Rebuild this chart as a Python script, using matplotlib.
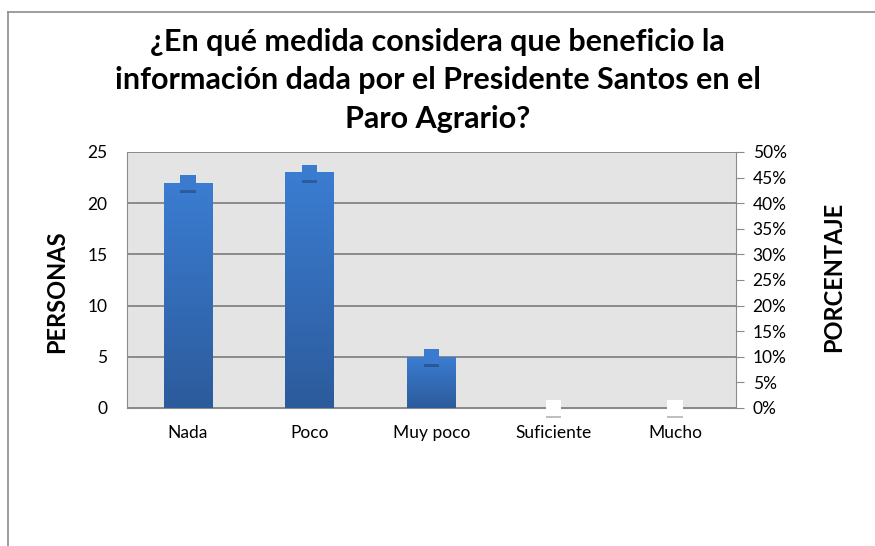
import matplotlib
matplotlib.use("Agg")
import matplotlib.pyplot as plt
import matplotlib.patheffects as pe
import numpy as np
from matplotlib.ticker import MultipleLocator, PercentFormatter

# datos
categorias = ["Nada", "Poco", "Muy poco", "Suficiente", "Mucho"]
personas = [22, 23, 5, 0, 0]
porcentaje = [44, 46, 10, 0, 0]

titulo = ("¿En qué medida considera que beneficio la\n"
          "información dada por el Presidente Santos en el\n"
          "Paro Agrario?")

plt.rcParams['font.family'] = ['Lato', 'DejaVu Sans']

fig = plt.figure(figsize=(8.75, 5.46), dpi=100)
ax = fig.add_axes([127 / 875, 1 - 408 / 546, 609 / 875, 256 / 546])
ax.set_facecolor('#e4e4e4')

x = np.arange(len(categorias))
barras = ax.bar(x, personas, width=0.4, color='#3574c4', zorder=3)

# degradado vertical dentro de cada barra
grad = np.linspace(0, 1, 256).reshape(-1, 1)
cmap = matplotlib.colors.LinearSegmentedColormap.from_list('b', ['#2c5b9c', '#3b7dd2'])
for b in barras:
    if b.get_height() <= 0:
        continue
    im = ax.imshow(grad, cmap=cmap, aspect='auto', origin='lower', zorder=3,
                   extent=[b.get_x(), b.get_x() + b.get_width(), 0, b.get_height()])
    im.set_clip_path(b)

ax.set_xlim(-0.5, len(categorias) - 0.5)
ax.set_ylim(0, 25)
ax.yaxis.set_major_locator(MultipleLocator(5))
ax.grid(axis='y', color='#8a8a8a', linewidth=1.4, zorder=1)
ax.set_axisbelow(True)
for s in ['top', 'right']:
    ax.spines[s].set_visible(False)
ax.spines['left'].set_color('#8a8a8a')
ax.spines['bottom'].set_color('#8a8a8a')
ax.tick_params(axis='y', length=0, labelsize=12.5, pad=14)
ax.tick_params(axis='x', length=0, labelsize=12.5, pad=12)
ax.set_xticks(x)
ax.set_xticklabels(categorias)
ax.set_ylabel('PERSONAS', fontsize=17, fontweight='bold')
ax.yaxis.set_label_coords(-0.097, 0.453)

# eje secundario de porcentaje
ax2 = ax.twinx()
ax2.set_ylim(0, 50)
ax2.yaxis.set_major_locator(MultipleLocator(5))
ax2.yaxis.set_major_formatter(PercentFormatter(decimals=0))
for s in ['top', 'left', 'bottom']:
    ax2.spines[s].set_visible(False)
ax2.spines['right'].set_color('#8a8a8a')
ax2.tick_params(axis='y', length=6, color='#8a8a8a', labelsize=12.5, pad=6)
ax2.set_ylabel('PORCENTAJE', fontsize=17, fontweight='bold')
ax2.yaxis.set_label_coords(1.141, 0.512)

caras = ['#3a7bd0' if p > 0 else 'white' for p in porcentaje]
ax2.scatter(x, porcentaje, marker='s', s=120, c=caras, linewidths=0, zorder=5,
            clip_on=False,
            path_effects=[pe.SimplePatchShadow(offset=(0, -2), shadow_rgbFace='black',
                                               alpha=0.25), pe.Normal()])

fig.suptitle(titulo, fontsize=22, fontweight='bold', y=1 - 28 / 546, linespacing=1.45)

# borde del area del grafico
fig.add_artist(plt.Line2D([8 / 875, 8 / 875], [0, 1 - 12 / 546], color='#8c8c8c', lw=1.2))
fig.add_artist(plt.Line2D([8 / 875, 1], [1 - 12 / 546, 1 - 12 / 546], color='#8c8c8c', lw=1.2))

fig.savefig('out.png', dpi=100)
